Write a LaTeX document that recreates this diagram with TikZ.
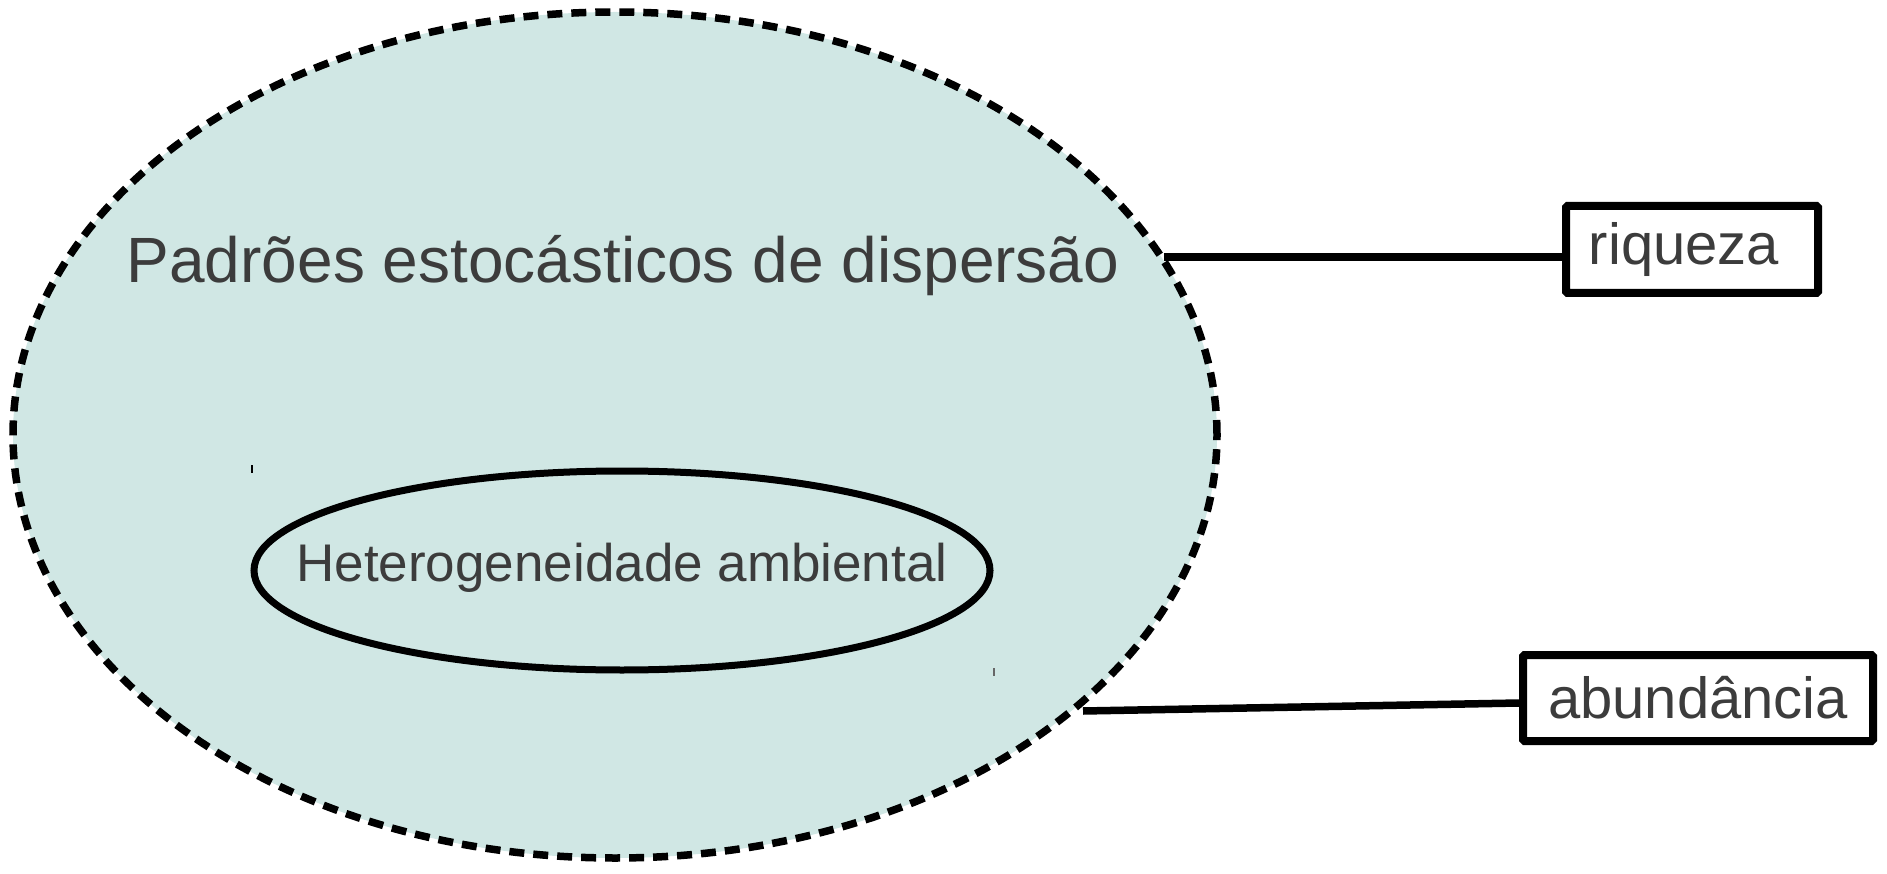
\documentclass[tikz,border=0pt]{standalone}
\usepackage{fontspec}
\setmainfont{Liberation Sans}
\usetikzlibrary{shapes.geometric}
\definecolor{tealfill}{RGB}{208,231,228}
\definecolor{txt}{RGB}{60,60,60}
\tikzset{
  outerell/.style={ellipse, draw=black, fill=tealfill, line width=7.5pt, dash pattern=on 15pt off 9pt, inner sep=0pt, minimum width=1204pt, minimum height=846pt},
  innerell/.style={ellipse, draw=black, line width=7pt, inner sep=0pt, minimum width=736pt, minimum height=199pt},
  labelbox/.style={rectangle, draw=black, line width=8pt, inner sep=0pt, text=txt, font=\fontsize{58}{66}\selectfont, rounded corners=1.5pt},
  link/.style={draw=black, line width=7.5pt},
  bigtext/.style={text=txt, font=\fontsize{64}{72}\selectfont, inner sep=0pt, anchor=base},
  midtext/.style={text=txt, font=\fontsize{53}{60}\selectfont, inner sep=0pt}
}
\begin{document}
\begin{tikzpicture}[x=1pt,y=-1pt]
\useasboundingbox (0,0) rectangle (1887,874);
\node[outerell] (big) at (615,435) {};
\node[bigtext] (title) at (623,283) {Padrões estocásticos de dispersão};
\node[innerell] (het) at (622,570.5) {};
\node[midtext] (hettext) at (622,568) {Heterogeneidade ambiental};
\node[labelbox, minimum width=252pt, minimum height=87pt] (riq) at (1692,249.5) {\hspace*{-16pt}riqueza};
\node[labelbox, minimum width=350pt, minimum height=86pt] (abu) at (1698,698) {abundância};
\coordinate (r1) at (1164,257);
\coordinate (a1) at (1083,711);
\draw[link] (r1) -- (riq.west |- r1);
\draw[link] (a1) -- ([yshift=-5pt]abu.west);
\draw[line width=1.5pt] (252,465) -- (252,473);
\draw[line width=1.5pt, draw=gray!80!black] (994,668) -- (994,676);
\end{tikzpicture}
\end{document}
